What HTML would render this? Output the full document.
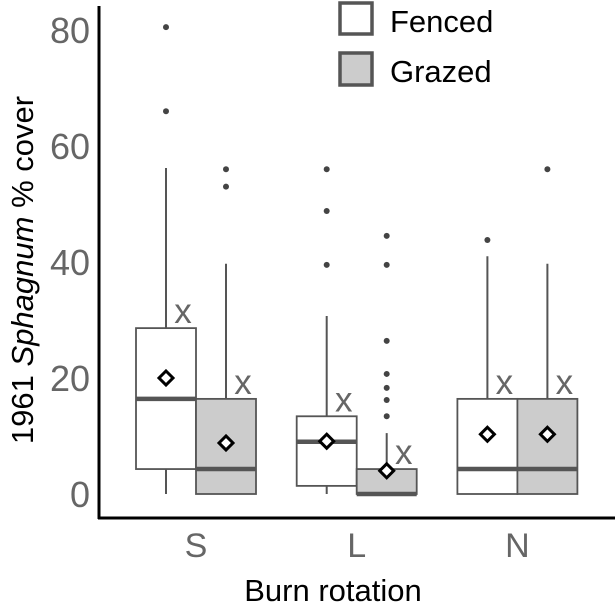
<!DOCTYPE html>
<html><head><meta charset="utf-8"><style>
html,body{margin:0;padding:0;background:#fff;}
svg{display:block;font-family:"Liberation Sans",Arial,sans-serif;}
</style></head><body>
<svg id="chart" width="615" height="610" viewBox="0 0 615 610">
<g id="plot"></g>
<line x1="99" y1="6" x2="99" y2="519" stroke="#000" stroke-width="3"/>
<line x1="98" y1="518" x2="615" y2="518" stroke="#000" stroke-width="3"/>
<g id="yticks"></g>
<g id="xticks"></g>
<text x="33" y="270" transform="rotate(-90 33 270)" text-anchor="middle" font-size="31" fill="#000">1961 <tspan font-style="italic">Sphagnum</tspan> % cover</text>
<text x="333" y="601" text-anchor="middle" font-size="31" fill="#000">Burn rotation</text>
<g>
<rect x="340" y="3" width="32" height="31" fill="#fff" stroke="#555" stroke-width="3.5"/>
<text x="390" y="32" font-size="31" fill="#000">Fenced</text>
<rect x="340" y="53" width="32" height="32" fill="#cccccc" stroke="#555" stroke-width="3.5"/>
<text x="390" y="82" font-size="31" fill="#000">Grazed</text>
</g>
</svg>
<script>
const categories = ["S","L","N"];
const groups = ["Fenced","Grazed"];
const q1 =     [[4.3,0],[1.4,0],[0,0]];
const median = [[16.4,4.3],[9,0],[4.3,4.3]];
const q3 =     [[28.6,16.4],[13.4,4.3],[16.4,16.4]];
const whiskerLow =  [[0,0],[0,0],[0,0]];
const whiskerHigh = [[56.2,39.7],[30.7,10.5],[41,39.7]];
const means =  [[20,8.8],[9.1,4],[10.3,10.3]];
const outliers = [[[80.5,66],[56,53]],[[56,48.8,39.5],[44.5,39.5,26.4,20.7,18.3,16.2,13.4]],[[43.8],[56]]];
const letters = [["x","x"],["x","x"],["x","x"]];
const yTicks = [0,20,40,60,80];

const NS="http://www.w3.org/2000/svg";
function y(v){return 494 - v*5.8;}
function xc(i){return 196 + i*160.7;}
const boxW = 60;
function mk(tag, attrs, parent){const e=document.createElementNS(NS,tag);for(const k in attrs)e.setAttribute(k,attrs[k]);parent.appendChild(e);return e;}
const plot=document.getElementById('plot');
categories.forEach((c,i)=>{
  groups.forEach((g,j)=>{
    const x0 = xc(i) + (j===0?-boxW:0);
    const cx = x0 + boxW/2;
    const fill = j===0?"#fff":"#cccccc";
    const gr=mk('g',{},plot);
    
    
    const w1=mk('line',{x1:cx,x2:cx,y1:y(q3[i][j]),y2:y(whiskerHigh[i][j]),stroke:"#555","stroke-width":2},gr);
    
    
    const w2=mk('line',{x1:cx,x2:cx,y1:y(q1[i][j]),y2:y(whiskerLow[i][j]),stroke:"#555","stroke-width":2},gr);
    
    
    const r=mk('rect',{x:x0,y:y(q3[i][j]),width:boxW,height:Math.max(0,y(q1[i][j])-y(q3[i][j])),fill:fill,stroke:"#555","stroke-width":1.8},gr);
    
    
    const m=mk('line',{x1:x0,x2:x0+boxW,y1:y(median[i][j]),y2:y(median[i][j]),stroke:"#555","stroke-width":4.5},gr);
    
    
    outliers[i][j].forEach(v=>{
      const o=mk('circle',{cx:cx,cy:y(v),r:3,fill:"#444"},gr);
      
      
    });
    const my=y(means[i][j]);
    const d=mk('polygon',{points:`${cx},${my-7} ${cx+7},${my} ${cx},${my+7} ${cx-7},${my}`,fill:"#fff",stroke:"#000","stroke-width":3},gr);
    
    
    const t=mk('text',{x:cx+17,y:y(q3[i][j])-5,"text-anchor":"middle","font-size":35,fill:"#666"},gr);
    t.textContent=letters[i][j];
    
    
  });
  const xt=mk('text',{x:xc(i),y:557,"text-anchor":"middle","font-size":34,fill:"#666"},document.getElementById('xticks'));
  xt.textContent=c;
  
  
});
yTicks.forEach(v=>{
  const t=mk('text',{x:90,y:y(v)+13,"text-anchor":"end","font-size":36,fill:"#666"},document.getElementById('yticks'));
  t.textContent=v;
  
  
});
</script>
</body></html>
